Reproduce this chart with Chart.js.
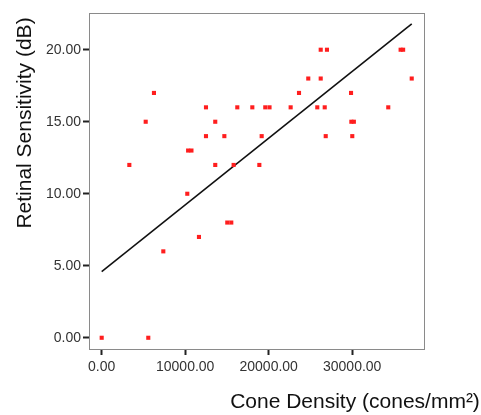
<!DOCTYPE html>
<html>
<head>
<meta charset="utf-8">
<script src="https://cdn.jsdelivr.net/npm/chart.js@4/dist/chart.umd.min.js"></script>
<style>
  body { margin: 0; background: #fff; }
  #wrap { width: 481px; height: 415px; position: relative; }
</style>
</head>
<body>
<div id="wrap"><canvas id="myChart"></canvas></div>
<script>
// DATA
const coneDensity = [
  0, 5580, 3310, 5270, 6260, 7380, 10250, 10350, 10750, 11650,
  12490, 12490, 13600, 13600, 14690, 15040, 15520, 15800, 16240, 18040,
  18880, 19160, 19590, 20100, 22630, 23630, 24740, 25820, 26230, 26230,
  26710, 26830, 26980, 29860, 29900, 30200, 30010, 34320, 35800, 36100, 37130
];
const retinalSensitivity = [
  0, 0, 12, 15, 17, 6, 10, 13, 13, 7,
  16, 14, 15, 12, 14, 8, 8, 12, 16, 16,
  12, 14, 16, 16, 16, 17, 18, 16, 20, 18,
  16, 14, 20, 17, 15, 15, 14, 16, 20, 20, 18
];
// fit line end points
const fitX = [0, 37130];
const fitY = [4.6, 21.8];

const xTicks = [0, 10000, 20000, 30000];
const yTicks = [0, 5, 10, 15, 20];

const xTitle = 'Cone Density (cones/mm\u00B2)';
const yTitle = 'Retinal Sensitivity (dB)';

const FONT = "'Liberation Sans', Arial, sans-serif";

// frame around plot + axis titles
const framePlugin = {
  id: 'frame',
  beforeDatasetsDraw(chart) {
    const { ctx, chartArea: a } = chart;
    ctx.save();
    ctx.strokeStyle = '#8a8a8a';
    ctx.lineWidth = 1;
    ctx.strokeRect(a.left + 0.5, a.top + 0.5, a.right - a.left, a.bottom - a.top);
    ctx.restore();
  },
  afterDraw(chart) {
    const { ctx, chartArea: a } = chart;
    ctx.save();
    ctx.fillStyle = '#111';
    ctx.font = '21px ' + FONT;
    ctx.textAlign = 'center';
    ctx.textBaseline = 'alphabetic';
    ctx.fillText(xTitle, a.left + 266, a.bottom + 59);
    ctx.translate(31, a.top + 110);
    ctx.rotate(-Math.PI / 2);
    ctx.fillText(yTitle, 0, 0);
    ctx.restore();
  }
};

const points = coneDensity.map((x, i) => ({ x: x, y: retinalSensitivity[i] }));
const fitLine = fitX.map((x, i) => ({ x: x, y: fitY[i] }));

const ctx = document.getElementById('myChart').getContext('2d');
const myChart = new Chart(ctx, {
  type: 'scatter',
  data: {
    datasets: [{
      label: 'Observed',
      data: points,
      pointStyle: 'rect',
      pointRadius: 2.9,
      pointBorderWidth: 0,
      backgroundColor: '#ff1e1e',
      borderColor: '#ff1e1e'
    }, {
      type: 'line',
      label: 'Fit',
      data: fitLine,
      borderColor: '#111',
      borderWidth: 1.6,
      pointRadius: 0,
      fill: false
    }]
  },
  options: {
    responsive: true,
    maintainAspectRatio: false,
    animation: false,
    layout: { padding: { top: 13, right: 57, left: 0, bottom: 0 } },
    plugins: {
      legend: { display: false },
      tooltip: { enabled: false }
    },
    scales: {
      x: {
        type: 'linear',
        min: -1520,
        max: 38600,
        afterFit: s => { s.height = 66; },
        afterBuildTicks: s => { s.ticks = xTicks.map(v => ({ value: v })); },
        border: { display: false },
        grid: { drawOnChartArea: false, drawTicks: true, tickLength: 6, tickColor: '#222', tickWidth: 2 },
        ticks: {
          padding: 4,
          color: '#333',
          font: { family: FONT, size: 14 },
          maxRotation: 0,
          callback: v => Number(v).toFixed(2)
        }
      },
      y: {
        type: 'linear',
        min: -0.78,
        max: 22.55,
        afterFit: s => { s.width = 89; },
        afterBuildTicks: s => { s.ticks = yTicks.map(v => ({ value: v })); },
        border: { display: false },
        grid: { drawOnChartArea: false, drawTicks: true, tickLength: 6, tickColor: '#222', tickWidth: 2 },
        ticks: {
          padding: 2,
          color: '#333',
          font: { family: FONT, size: 14 },
          callback: v => Number(v).toFixed(2)
        }
      }
    }
  },
  plugins: [framePlugin]
});
</script>
</body>
</html>
